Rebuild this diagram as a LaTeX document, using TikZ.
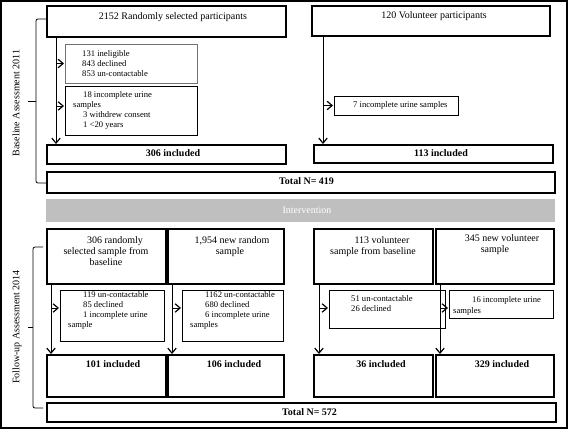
\documentclass[tikz,border=0pt]{standalone}
\usepackage{fontspec}
\setmainfont{Liberation Serif}
\usetikzlibrary{arrows.meta}
\begin{document}
\begin{tikzpicture}[x=1pt,y=-1pt,
  box/.style={draw, anchor=north west, inner sep=0pt, outer sep=0pt},
  thick box/.style={box, line width=1.8pt},
  thin box/.style={box, line width=0.9pt},
  mtext/.style={font=\fontsize{10}{12}\selectfont, inner sep=0pt, anchor=mid},
  btext/.style={font=\fontsize{10}{12}\selectfont\bfseries, inner sep=0pt, anchor=mid},
  stext/.style={font=\fontsize{8.6}{10}\selectfont, inner sep=0pt, anchor=mid west},
  arr/.style={line width=0.9pt, -{Straight Barb[length=5pt,width=8.5pt,line width=1.2pt]}, shorten >=1pt},
  brace/.style={line width=0.8pt, rounded corners=2pt}]
\useasboundingbox (0,0) rectangle (569,430);
% outer frame
\node[thick box, line width=2pt, minimum width=566pt, minimum height=427pt] (frame) at (1,1) {};

% ---------- Baseline ----------
\node[thick box, minimum width=239pt, minimum height=31pt] (b1) at (47,6) {};
\node[thick box, minimum width=238pt, minimum height=30pt] (b2) at (312,6) {};
\node[thin box, draw=black!55, minimum width=132pt, minimum height=39pt] (s1) at (65,44) {};
\node[thin box, minimum width=132pt, minimum height=49pt] (s2) at (65,86) {};
\node[thin box, minimum width=124pt, minimum height=19pt] (s3) at (334,96) {};
\node[thick box, minimum width=239pt, minimum height=19pt] (inc1) at (47,145) {};
\node[thick box, minimum width=239pt, minimum height=18pt] (inc2) at (314,145) {};
\node[thick box, minimum width=508pt, minimum height=21pt] (tot1) at (47,172) {};
\node[box, draw=none, fill=black!25, minimum width=509pt, minimum height=23pt] (inter) at (46,199) {};

\node[mtext] (b1t) at (173,17) {2152 Randomly selected participants};
\node[mtext] (b2t) at (434,16) {120 Volunteer participants};
\node[stext] (s1a) at (82,54) {131 ineligible};
\node[stext] (s1b) at (82,64) {843 declined};
\node[stext] (s1c) at (82,74) {853 un-contactable};
\node[stext] (s2a) at (83,95) {18 incomplete urine};
\node[stext] (s2b) at (73,105) {samples};
\node[stext] (s2c) at (83,115) {3 withdrew consent};
\node[stext] (s2d) at (83,125) {1 <20 years};
\node[stext] (s3a) at (353,105.5) {7 incomplete urine samples};
\node[btext] (inc1t) at (173,154) {306 included};
\node[btext] (inc2t) at (441,154) {113 included};
\node[btext, anchor=mid west] (tot1t) at (279,182) {Total N= 419};
\node[mtext, text=white] (intert) at (307,211) {Intervention};

\coordinate (v1) at ([xshift=9pt]b1.south west);
\coordinate (v2) at ([xshift=11pt]b2.south west);
\coordinate (s2w) at ([yshift=4.5pt]s2.west);
\draw[arr] (v1) -- (v1 |- inc1.north);
\draw[arr] (v1 |- s1.west) -- (s1.west);
\draw[arr] (v1 |- s2w) -- (s2w);
\draw[arr] (v2) -- (v2 |- inc2.north);
\draw[arr] (v2 |- s3.west) -- (s3.west);

% brace baseline
\draw[brace] (47,19) -- (36,19) -- (36,183) -- (47,183);
\draw[line width=0.8pt] (28,101) -- (36,101);
\node[mtext, rotate=90] (lab1) at (17,103) {Baseline Assessment 2011};

% ---------- Follow-up ----------
\node[thick box, minimum width=119pt, minimum height=55pt] (f1) at (47,229) {};
\node[thick box, minimum width=116pt, minimum height=55pt] (f2) at (168,229) {};
\node[thick box, minimum width=119pt, minimum height=55pt] (f3) at (314,229) {};
\node[thick box, minimum width=118pt, minimum height=55pt] (f4) at (436,229) {};
\node[thin box, minimum width=104pt, minimum height=51pt] (fs1) at (60,290) {};
\node[thin box, minimum width=101pt, minimum height=51pt] (fs2) at (182,290) {};
\node[thin box, minimum width=116pt, minimum height=38pt] (fs3) at (329,290) {};
\node[thin box, minimum width=104pt, minimum height=28pt] (fs4) at (449,290) {};
\node[thick box, minimum width=119pt, minimum height=42pt] (g1) at (47,355) {};
\node[thick box, minimum width=116pt, minimum height=42pt] (g2) at (168,355) {};
\node[thick box, minimum width=119pt, minimum height=42pt] (g3) at (314,355) {};
\node[thick box, minimum width=118pt, minimum height=42pt] (g4) at (436,355) {};
\node[thick box, minimum width=509pt, minimum height=19pt] (tot2) at (47,403) {};

\node[mtext] (f1a) at (115,241) {306 randomly};
\node[mtext] (f1b) at (106,252) {selected sample from};
\node[mtext] (f1c) at (106,263) {baseline};
\node[mtext] (f2a) at (232,241) {1,954 new random};
\node[mtext] (f2b) at (230,252) {sample};
\node[mtext] (f3a) at (382,241) {113 volunteer};
\node[mtext] (f3b) at (373,252) {sample from baseline};
\node[mtext] (f4a) at (502,239) {345 new volunteer};
\node[mtext] (f4b) at (495,250) {sample};

\node[stext] (fs1a) at (83,295) {119 un-contactable};
\node[stext] (fs1b) at (83,305) {85 declined};
\node[stext] (fs1c) at (83,315) {1 incomplete urine};
\node[stext] (fs1d) at (68,325) {sample};
\node[stext] (fs2a) at (205,295) {1162 un-contactable};
\node[stext] (fs2b) at (205,305) {680 declined};
\node[stext] (fs2c) at (205,315) {6 incomplete urine};
\node[stext] (fs2d) at (190,325) {samples};
\node[stext] (fs3a) at (351,299) {51 un-contactable};
\node[stext] (fs3b) at (351,309) {26 declined};
\node[stext] (fs4a) at (472,300) {16 incomplete urine};
\node[stext] (fs4b) at (453,311) {samples};

\node[btext] (g1t) at (113,365) {101 included};
\node[btext] (g2t) at (234,365) {106 included};
\node[btext] (g3t) at (381,365) {36 included};
\node[btext] (g4t) at (502,365) {329 included};
\node[btext, anchor=mid west] (tot2t) at (282,413) {Total N= 572};

\coordinate (v3) at ([xshift=4pt]f1.south west);
\coordinate (v4) at ([xshift=4pt]f2.south west);
\coordinate (v5) at ([xshift=5pt]f3.south west);
\coordinate (v6) at ([xshift=4pt]f4.south west);
\coordinate (a1) at ([yshift=-18pt]fs1.north west);
\coordinate (a2) at ([yshift=-18pt]fs2.north west);
\coordinate (a3) at ([yshift=-18pt]fs3.north west);
\coordinate (a4) at ([yshift=-18pt]fs4.north west);
\draw[arr] (v3) -- (v3 |- g1.north);
\draw[arr] (v4) -- (v4 |- g2.north);
\draw[arr] (v5) -- (v5 |- g3.north);
\draw[arr] (v6) -- (v6 |- g4.north);
\draw[arr] (v3 |- a1) -- (a1);
\draw[arr] (v4 |- a2) -- (a2);
\draw[arr] (v5 |- a3) -- (a3);
\draw[arr] (v6 |- a4) -- (a4);

% brace follow-up
\draw[brace] (43,247) -- (33,247) -- (33,408) -- (43,408);
\draw[line width=0.8pt] (28,327) -- (33,327);
\node[mtext, rotate=90] (lab2) at (17,327) {Follow-up Assessment 2014};
\end{tikzpicture}
\end{document}
